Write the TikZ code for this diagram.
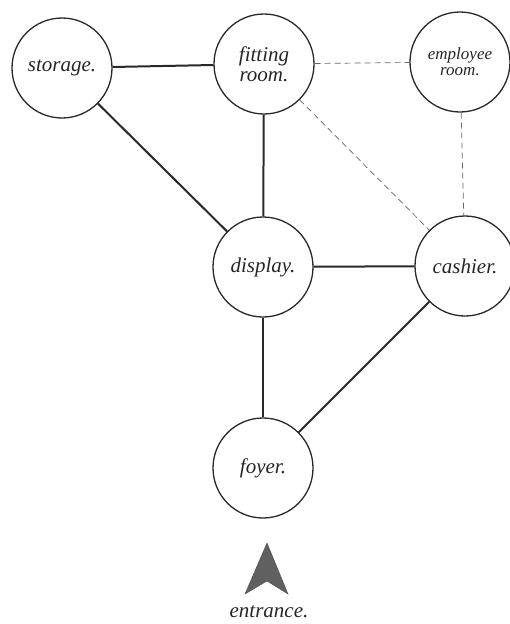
\documentclass[tikz,border=0pt]{standalone}
\usepackage{fontspec}
\setmainfont{Liberation Serif}
\usepackage{tikz}
\usetikzlibrary{positioning}
\definecolor{inkgray}{RGB}{40,40,45}

\tikzset{
    room/.style={circle, draw=inkgray, line width=1.3pt, minimum size=100pt, inner sep=0pt, align=center, font=\fontsize{21}{20}\selectfont\itshape},
    smallroom/.style={room, font=\fontsize{17}{16}\selectfont\itshape},
    link/.style={draw=inkgray, line width=2pt},
    weaklink/.style={draw=gray!80!black, line width=0.7pt, dash pattern=on 6pt off 4pt}
}

\begin{document}
\begin{tikzpicture}[x=1pt, y=-1pt, every node/.style={text=black!85}]
        \useasboundingbox (0,0) rectangle (510,624);

        % Rooms
        \node[room] (storage) at (62,68) {storage.};
        \node[room] (fitting) at (264,64) {fitting\\room.};
        \node[smallroom] (employee) at (460,62) {employee\\room.};
        \node[room] (display) at (263,267) {display.};
        \node[room] (cashier) at (465,266) {cashier.};
        \node[room] (foyer) at (263,468) {foyer.};

        % Solid links
        \draw[link] (storage) -- (fitting);
        \draw[link] (storage) -- (display);
        \draw[link] (fitting) -- (display);
        \draw[link] (display) -- (cashier);
        \draw[link] (display) -- (foyer);
        \draw[link] (cashier) -- (foyer);

        % Dashed links
        \draw[weaklink] (fitting) -- (employee);
        \draw[weaklink] (fitting) -- (cashier);
        \draw[weaklink] (employee) -- (cashier);

        % Entrance
        \fill[gray!75!black, draw=gray!60!black] (267,543) -- (288,594) -- (267,581) -- (245,594) -- cycle;
        \node[font=\fontsize{21}{21}\selectfont\itshape] (entrance) at (269,612) {entrance.};
    \end{tikzpicture}
\end{document}
